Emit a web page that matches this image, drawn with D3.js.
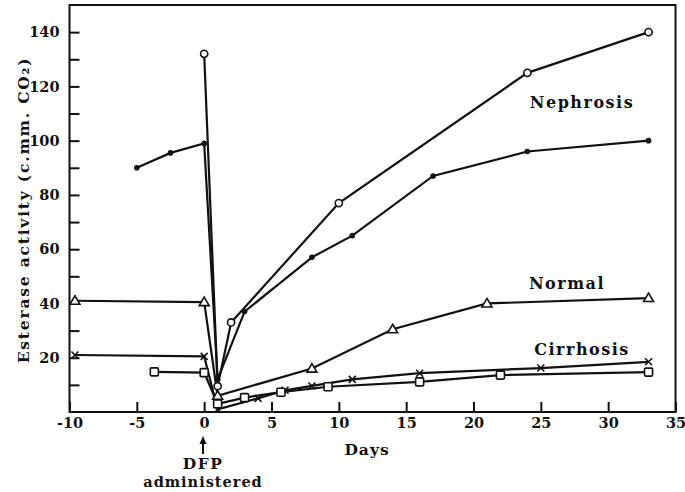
<!DOCTYPE html>
<html><head><meta charset="utf-8">
<script src="https://cdn.jsdelivr.net/npm/d3@7"></script>
<style>
body{margin:0;background:#fff;}
text{font-family:"DejaVu Serif",serif;font-weight:bold;fill:#111;}
</style></head>
<body>
<svg id="chart" width="685" height="492"></svg>
<script>
const xTicks = [-10,-5,0,5,10,15,20,25,30,35];
const yTicks = [20,40,60,80,100,120,140];
const yMinorTicks = [10,30,50,70,90,110,130];

const nephOpenDays   = [0,1,2,10,24,33];
const nephOpenVals   = [132,9.5,33,77,125,140];
const nephFilledDays = [-5,-2.5,0,1,3,8,11,17,24,33];
const nephFilledVals = [90,95.5,99,12,37,57,65,87,96,100];
const normalDays     = [-9.6,0,1,8,14,21,33];
const normalVals     = [41,40.5,6,16,30.5,40,42];
const cirrXDays      = [-9.6,0,1,4,6,8,11,16,25,33];
const cirrXVals      = [21,20.5,1,5,8,9.6,12,14.3,16.2,18.5];
const cirrSqDays     = [-3.7,0,1,3,5.7,9.2,16,22,33];
const cirrSqVals     = [14.8,14.5,3,5.3,7.3,9.3,11.1,13.6,14.7];

const svg = d3.select("#chart");
const x = d3.scaleLinear().domain([-10,35]).range([69.5,675.5]);
const y = d3.scaleLinear().domain([0,150]).range([412,5]);

// frame
svg.append("rect").attr("x",x(-10)).attr("y",y(150)).attr("width",x(35)-x(-10)).attr("height",y(0)-y(150))
  .attr("fill","none").attr("stroke","#111").attr("stroke-width",2);

const fmt = d => String(d);
// x axis
const xAxis = d3.axisBottom(x).tickValues(xTicks).tickSize(-10).tickPadding(6).tickFormat(fmt);
const gx = svg.append("g").attr("transform",`translate(0,${y(0)})`).call(xAxis);
gx.select(".domain").remove();
gx.selectAll("line").attr("stroke","#111").attr("stroke-width",2);
gx.selectAll("text").attr("font-size",14.5).attr("font-family","DejaVu Serif").attr("font-weight","bold").attr("fill","#111");

// y axis
const yAxis = d3.axisLeft(y).tickValues(yTicks).tickSize(-10).tickPadding(10).tickFormat(fmt);
const gy = svg.append("g").attr("transform",`translate(${x(-10)},0)`).call(yAxis);
gy.select(".domain").remove();
gy.selectAll("line").attr("stroke","#111").attr("stroke-width",2);
gy.selectAll("text").attr("font-size",14.5).attr("font-family","DejaVu Serif").attr("font-weight","bold").attr("fill","#111");
const gym = svg.append("g").attr("transform",`translate(${x(-10)},0)`).call(d3.axisLeft(y).tickValues(yMinorTicks).tickSize(-10).tickFormat(""));
gym.select(".domain").remove();
gym.selectAll("line").attr("stroke","#111").attr("stroke-width",2);

// lines
const line = d3.line().x(d=>x(d[0])).y(d=>y(d[1]));
const series = [
  {days:nephOpenDays, vals:nephOpenVals, m:"circle"},
  {days:nephFilledDays, vals:nephFilledVals, m:"dot"},
  {days:normalDays, vals:normalVals, m:"tri"},
  {days:cirrXDays, vals:cirrXVals, m:"x"},
  {days:cirrSqDays, vals:cirrSqVals, m:"sq"}
];
series.forEach(s=>{
  const pts = s.days.map((d,i)=>[d,s.vals[i]]);
  svg.append("path").datum(pts).attr("d",line).attr("fill","none").attr("stroke","#111").attr("stroke-width",2.2);
});
series.forEach(s=>{
  const pts = s.days.map((d,i)=>[d,s.vals[i]]);
  const g = svg.append("g");
  pts.forEach(p=>{
    const cx = x(p[0]), cy = y(p[1]);
    if (s.m==="circle") g.append("circle").attr("cx",cx).attr("cy",cy).attr("r",3.6).attr("fill","#fff").attr("stroke","#111").attr("stroke-width",1.6);
    else if (s.m==="dot") g.append("circle").attr("cx",cx).attr("cy",cy).attr("r",2.8).attr("fill","#111");
    else if (s.m==="tri") g.append("path").attr("d",`M${cx},${cy-5} L${cx+5},${cy+3.5} L${cx-5},${cy+3.5}Z`).attr("fill","#fff").attr("stroke","#111").attr("stroke-width",1.6);
    else if (s.m==="x") g.append("path").attr("d",`M${cx-3.5},${cy-3.5} L${cx+3.5},${cy+3.5} M${cx+3.5},${cy-3.5} L${cx-3.5},${cy+3.5}`).attr("stroke","#111").attr("stroke-width",1.6);
    else if (s.m==="sq") g.append("rect").attr("x",cx-4).attr("y",cy-4).attr("width",8).attr("height",8).attr("rx",1).attr("fill","#fff").attr("stroke","#111").attr("stroke-width",1.6);
  });
});

// labels
const lab = (t,px,py,size,ls)=>svg.append("text").attr("x",px).attr("y",py).attr("text-anchor","middle")
  .attr("font-size",size).attr("letter-spacing",ls).text(t);
lab("Nephrosis",582,108,16,1.5);
lab("Normal",567,289,16,1.5);
lab("Cirrhosis",582,355,16,1.5);
lab("Days",367,455,15.5,1);
lab("DFP",203,469,15.5,1.5);
lab("administered",203,487,14.5,1);
svg.append("text").attr("transform","translate(29,210) rotate(-90)").attr("text-anchor","middle")
  .attr("font-size",15.5).attr("letter-spacing",1.8).text("Esterase activity (c.mm. CO₂)");

// arrow
svg.append("line").attr("x1",203).attr("x2",203).attr("y1",441).attr("y2",454).attr("stroke","#111").attr("stroke-width",2);
svg.append("path").attr("d","M203,436 L199.5,444 L206.5,444Z").attr("fill","#111");
</script>
</body></html>
